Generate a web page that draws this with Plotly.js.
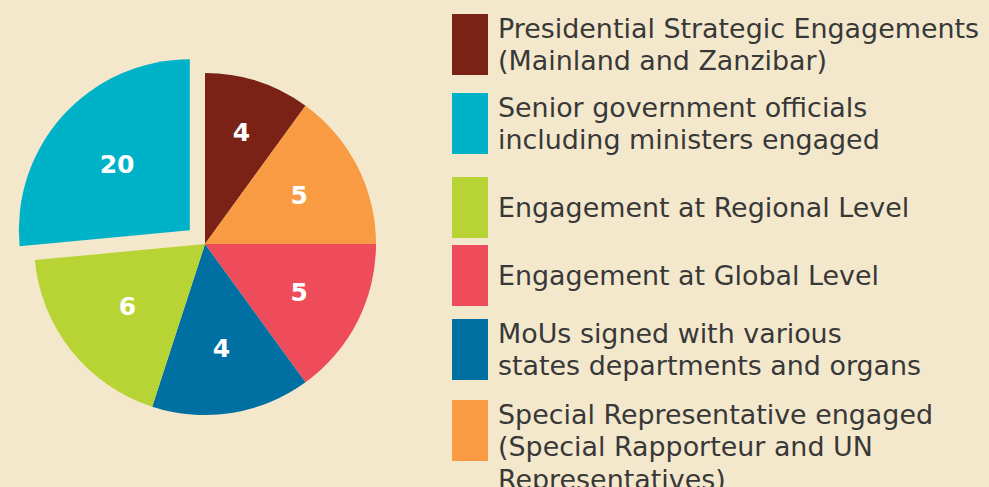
<!DOCTYPE html>
<html>
<head>
<meta charset="utf-8">
<script src="https://cdn.plot.ly/plotly-3.0.1.min.js"></script>
<style>
  html, body { margin: 0; padding: 0; background: #F4E8CC; }
  #chart { width: 989px; height: 487px; }
</style>
</head>
<body>
<div id="chart"></div>
<script>
// ---- data (legend order) ----
const categories = [
  "Presidential Strategic Engagements<br>(Mainland and Zanzibar)",
  "Senior government officials<br>including ministers engaged",
  "Engagement at Regional Level",
  "Engagement at Global Level",
  "MoUs signed with various<br>states departments and organs",
  "Special Representative engaged<br>(Special Rapporteur and UN<br>Representatives)"
];
const categoryColors = ["#7B2216", "#00B2C8", "#B8D434", "#EE4B5B", "#0070A2", "#F89B43"];

// ---- pie slices (clockwise from 12 o'clock) ----
const sliceCategory = [0, 5, 3, 4, 2, 1];          // index into categories
const sliceCounts   = [4, 5, 5, 4, 6, 20];         // numbers printed on slices
const sliceShares   = [10, 15, 15, 15, 18.5, 26.5]; // slice sizes as drawn (% of circle)
const slicePull     = [0, 0, 0, 0, 0, 0.12];

// ---- layout helpers (pixels) ----
const W = 989, H = 487;
const px = x => x / W;
const py = y => 1 - y / H;

const pieCx = 205, pieCy = 244, pieR = 171;
const maxPull = Math.max(...slicePull);
const half = pieR * (1 + maxPull);
const labelR = pieR * 0.9;   // radius of the label-carrying overlay for un-pulled slices

const numFont = { family: 'DejaVu Sans', size: 25, color: '#FFFFFF', weight: 'bold' };
const sliceLabels = sliceCategory.map(i => categories[i].replace(/<br>/g, ' '));

const pieMain = {
  type: 'pie',
  values: sliceShares,
  labels: sliceLabels,
  text: sliceCounts.map((c, k) => slicePull[k] > 0 ? String(c) : ''),
  texttemplate: '%{text}',
  textposition: 'inside',
  insidetextorientation: 'horizontal',
  textfont: numFont,
  marker: { colors: sliceCategory.map(i => categoryColors[i]), line: { width: 0 } },
  pull: slicePull,
  sort: false,
  direction: 'clockwise',
  rotation: 0,
  hoverinfo: 'none',
  showlegend: false,
  domain: { x: [px(pieCx - half), px(pieCx + half)], y: [py(pieCy + half), py(pieCy - half)] }
};

const pieLabels = {
  type: 'pie',
  values: sliceShares,
  labels: sliceLabels,
  text: sliceCounts.map((c, k) => slicePull[k] > 0 ? '' : String(c)),
  texttemplate: '%{text}',
  textposition: 'inside',
  insidetextorientation: 'horizontal',
  textfont: numFont,
  marker: { colors: sliceCategory.map(() => 'rgba(0,0,0,0)'), line: { width: 0 } },
  sort: false,
  direction: 'clockwise',
  rotation: 0,
  hoverinfo: 'none',
  showlegend: false,
  domain: { x: [px(pieCx - labelR), px(pieCx + labelR)], y: [py(pieCy + labelR), py(pieCy - labelR)] }
};

// manual legend
const boxX0 = 452, boxX1 = 488, boxH = 61;
const boxTops = [14, 93, 177, 245, 319, 400];
const textX = 496;
const lineGap = 32.5;
const shapes = [];
const annotations = [];
categories.forEach((lab, k) => {
  const top = boxTops[k];
  shapes.push({
    type: 'rect', xref: 'paper', yref: 'paper',
    x0: px(boxX0), x1: px(boxX1), y0: py(top + boxH), y1: py(top),
    fillcolor: categoryColors[k], line: { width: 0 }
  });
  const lines = lab.split('<br>');
  const center = top + boxH / 2;
  const first = lines.length === 1 ? center : center - lineGap / 2;
  lines.forEach((ln, j) => {
    annotations.push({
      xref: 'paper', yref: 'paper', x: px(textX), y: py(first + j * lineGap),
      xanchor: 'left', yanchor: 'middle', showarrow: false, text: ln,
      font: { family: 'DejaVu Sans', size: 26.9, color: '#383838' }
    });
  });
});

const layout = {
  width: W, height: H,
  margin: { l: 0, r: 0, t: 0, b: 0, pad: 0 },
  paper_bgcolor: '#F4E8CC',
  plot_bgcolor: '#F4E8CC',
  showlegend: false,
  shapes: shapes,
  annotations: annotations
};

Plotly.newPlot('chart', [pieMain, pieLabels], layout, { displayModeBar: false, staticPlot: true });
</script>
</body>
</html>
